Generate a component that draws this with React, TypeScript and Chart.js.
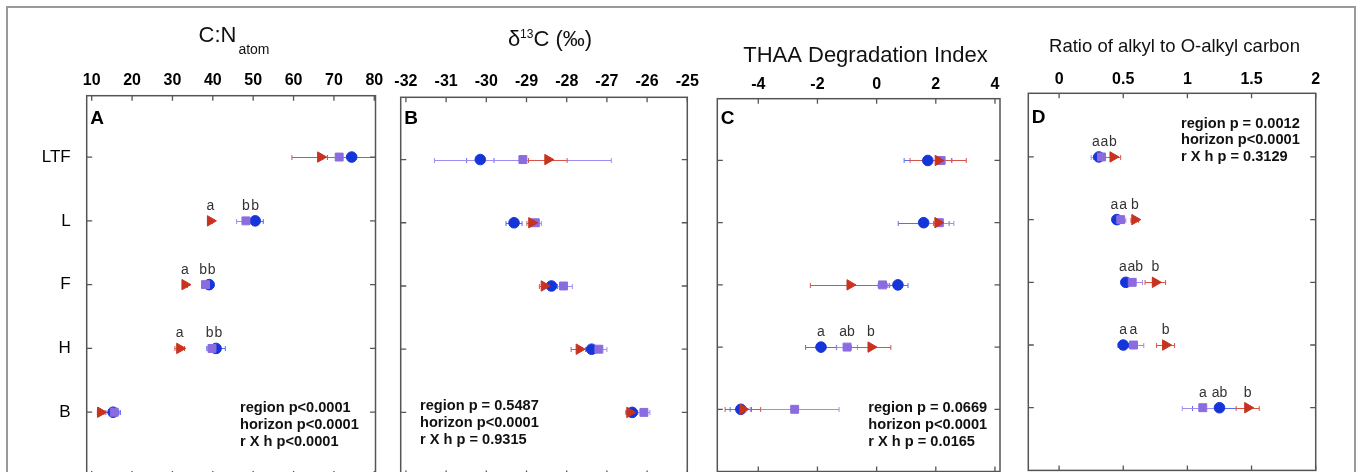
import React, { useEffect, useRef } from 'react';
import { Chart, registerables } from 'chart.js';

Chart.register(...registerables);

const FONT = '"Liberation Sans", Arial, Helvetica, sans-serif';

const categories = ['LTF', 'L', 'F', 'H', 'B'];

// ---- Panel A: C:N atom ----
const cnCircle = [74.4, 50.5, 39.1, 40.8, 15.3];
const cnCircleErr = [6.0, 2.0, 1.0, 2.3, 1.8];
const cnSquare = [71.3, 48.2, 38.2, 39.8, 15.6];
const cnSquareErr = [4.0, 2.3, 1.0, 1.2, 1.2];
const cnTriangle = [66.7, 39.4, 33.1, 31.8, 12.2];
const cnTriangleErr = [7.1, 0.5, 0.6, 1.2, 0.8];
const cnCircleSig = ['', 'b', 'b', 'b', ''];
const cnSquareSig = ['', 'b', 'b', 'b', ''];
const cnTriangleSig = ['', 'a', 'a', 'a', ''];
const cnTicks = [10, 20, 30, 40, 50, 60, 70, 80];
const cnStats = ['region p<0.0001', 'horizon p<0.0001', 'r X h p<0.0001'];

// ---- Panel B: delta 13C ----
const dcCircle = [-30.15, -29.31, -28.38, -27.38, -26.37];
const dcCircleErr = [0.34, 0.2, 0.15, 0.15, 0.1];
const dcSquare = [-29.09, -28.78, -28.08, -27.2, -26.08];
const dcSquareErr = [2.2, 0.15, 0.22, 0.2, 0.15];
const dcTriangle = [-28.47, -28.87, -28.56, -27.69, -26.43];
const dcTriangleErr = [0.48, 0.12, 0.12, 0.2, 0.1];
const dcCircleSig = ['', '', '', '', ''];
const dcSquareSig = ['', '', '', '', ''];
const dcTriangleSig = ['', '', '', '', ''];
const dcTicks = [-32, -31, -30, -29, -28, -27, -26, -25];
const dcStats = ['region p = 0.5487', 'horizon p<0.0001', 'r X h p = 0.9315'];

// ---- Panel C: THAA Degradation Index ----
const diCircle = [1.73, 1.59, 0.72, -1.88, -4.59];
const diCircleErr = [0.8, 0.86, 0.34, 0.52, 0.36];
const diSquare = [2.18, 2.12, 0.2, -1.0, -2.77];
const diSquareErr = [0.37, 0.49, 0.15, 0.35, 1.5];
const diTriangle = [2.08, 2.07, -0.9, -0.19, -4.52];
const diTriangleErr = [0.95, 0.15, 1.34, 0.67, 0.6];
const diCircleSig = ['', '', '', 'a', ''];
const diSquareSig = ['', '', '', 'ab', ''];
const diTriangleSig = ['', '', '', 'b', ''];
const diTicks = [-4, -2, 0, 2, 4];
const diStats = ['region p = 0.0669', 'horizon p<0.0001', 'r X h p = 0.0165'];

// ---- Panel D: alkyl / O-alkyl ----
const raCircle = [0.31, 0.45, 0.52, 0.5, 1.25];
const raCircleErr = [0.04, 0.03, 0.03, 0.04, 0.21];
const raSquare = [0.33, 0.48, 0.57, 0.58, 1.12];
const raSquareErr = [0.08, 0.04, 0.08, 0.08, 0.16];
const raTriangle = [0.42, 0.59, 0.75, 0.83, 1.47];
const raTriangleErr = [0.06, 0.03, 0.08, 0.07, 0.09];
const raCircleSig = ['a', 'a', 'a', 'a', 'ab'];
const raSquareSig = ['a', 'a', 'ab', 'a', 'a'];
const raTriangleSig = ['b', 'b', 'b', 'b', 'b'];
const raTicks = [0, 0.5, 1, 1.5, 2];
const raStats = ['region p = 0.0012', 'horizon p<0.0001', 'r X h p = 0.3129'];

const CIRCLE = '#1535d8';
const SQUARE = '#8a6ce0';
const TRIANGLE = '#c8321f';
const CIRCLE_LINE = '#5a6cf0';
const SQUARE_LINE = '#a08cf0';
const TRIANGLE_LINE = '#d6554a';
const BOX = '#555555';

type Seg = { text: string; size: number; dy: number; gap?: number };
type Series = { name: string; values: number[]; err: number[]; sig: string[]; style: 'circle' | 'rect' | 'triangle'; color: string; line: string; order: number };
type Panel = {
  id: string;
  L: number; R: number; T: number; Bt: number;
  xMin: number; xMax: number; yMin: number; yMax: number;
  ticks: number[]; tickPad: number; showCats: boolean;
  series: Series[];
  title: Seg[]; titleX: number; titleY: number;
  stats: string[]; statsX: number; statsY: number; statsDy: number;
  letterY: number;
};

const mk = (values: number[], err: number[], sig: string[], kind: 'circle' | 'rect' | 'triangle'): Series => {
  if (kind === 'circle') return { name: 'circle series', values, err, sig, style: 'circle', color: CIRCLE, line: CIRCLE_LINE, order: 2 };
  if (kind === 'rect') return { name: 'square series', values, err, sig, style: 'rect', color: SQUARE, line: SQUARE_LINE, order: 1 };
  return { name: 'triangle series', values, err, sig, style: 'triangle', color: TRIANGLE, line: TRIANGLE_LINE, order: 0 };
};

const panels: Panel[] = [
  {
    id: 'A', L: 86.7, R: 375.5, T: 95.7, Bt: 476, xMin: 8.76, xMax: 80.3, yMin: 0.038, yMax: 6,
    ticks: cnTicks, tickPad: 6, showCats: true,
    series: [mk(cnCircle, cnCircleErr, cnCircleSig, 'circle'), mk(cnSquare, cnSquareErr, cnSquareSig, 'rect'), mk(cnTriangle, cnTriangleErr, cnTriangleSig, 'triangle')],
    title: [{ text: 'C:N', size: 22, dy: 0, gap: 2 }, { text: 'atom', size: 14, dy: 12.3 }], titleX: 234, titleY: 41.7,
    stats: cnStats, statsX: 240, statsY: 408.3, statsDy: 17, letterY: 124,
  },
  {
    id: 'B', L: 400.7, R: 687.3, T: 97.3, Bt: 475.6, xMin: -32.13, xMax: -25, yMin: 0.015, yMax: 6,
    ticks: dcTicks, tickPad: 5.7, showCats: false,
    series: [mk(dcCircle, dcCircleErr, dcCircleSig, 'circle'), mk(dcSquare, dcSquareErr, dcSquareSig, 'rect'), mk(dcTriangle, dcTriangleErr, dcTriangleSig, 'triangle')],
    title: [{ text: 'δ', size: 22, dy: 0 }, { text: '13', size: 12, dy: -8 }, { text: 'C (‰)', size: 22, dy: 0 }], titleX: 550, titleY: 45.7,
    stats: dcStats, statsX: 420, statsY: 406, statsDy: 17, letterY: 124,
  },
  {
    id: 'C', L: 717.3, R: 1000, T: 98.7, Bt: 471.5, xMin: -5.385, xMax: 4.17, yMin: 0.007, yMax: 6,
    ticks: diTicks, tickPad: 4.1, showCats: false,
    series: [mk(diCircle, diCircleErr, diCircleSig, 'circle'), mk(diSquare, diSquareErr, diSquareSig, 'rect'), mk(diTriangle, diTriangleErr, diTriangleSig, 'triangle')],
    title: [{ text: 'THAA Degradation Index', size: 22, dy: 0 }], titleX: 865.5, titleY: 61.7,
    stats: diStats, statsX: 868.3, statsY: 408.3, statsDy: 17, letterY: 124,
  },
  {
    id: 'D', L: 1028.3, R: 1315.7, T: 93.3, Bt: 470.4, xMin: -0.24, xMax: 2.0, yMin: -0.015, yMax: 6,
    ticks: raTicks, tickPad: 4.2, showCats: false,
    series: [mk(raCircle, raCircleErr, raCircleSig, 'circle'), mk(raSquare, raSquareErr, raSquareSig, 'rect'), mk(raTriangle, raTriangleErr, raTriangleSig, 'triangle')],
    title: [{ text: 'Ratio of alkyl to O-alkyl carbon', size: 18.5, dy: 0 }], titleX: 1174.5, titleY: 51.7,
    stats: raStats, statsX: 1181, statsY: 124, statsDy: 16.3, letterY: 122.7,
  },
];

const H = 520;

function geom(p: Panel) {
  const left = Math.floor(p.L) - 90;
  const yw = p.L - left;
  const w = Math.ceil(p.R) + 60 - left;
  const pR = left + w - p.R;
  return { left, yw, w, pR };
}

function buildChart(canvas: HTMLCanvasElement, p: Panel) {
  const g = geom(p);
  const deco = {
    id: 'deco' + p.id,
    beforeDatasetsDraw(chart: any) {
      const ctx = chart.ctx as CanvasRenderingContext2D;
      const xs = chart.scales.x;
      const ys = chart.scales.y;
      const a = chart.chartArea;
      ctx.save();
      ctx.beginPath();
      ctx.rect(a.left, a.top, a.right - a.left, a.bottom - a.top);
      ctx.clip();
      ctx.lineWidth = 1;
      for (const s of p.series) {
        ctx.strokeStyle = s.line;
        s.values.forEach((v, i) => {
          const e = s.err[i];
          const y = Math.round(ys.getPixelForValue(i + 1)) + 0.5;
          const x1 = xs.getPixelForValue(v - e);
          const x2 = xs.getPixelForValue(v + e);
          ctx.beginPath();
          ctx.moveTo(x1, y);
          ctx.lineTo(x2, y);
          ctx.moveTo(x1, y - 2.5);
          ctx.lineTo(x1, y + 2.5);
          ctx.moveTo(x2, y - 2.5);
          ctx.lineTo(x2, y + 2.5);
          ctx.stroke();
        });
      }
      ctx.restore();
    },
    afterDraw(chart: any) {
      const ctx = chart.ctx as CanvasRenderingContext2D;
      const xs = chart.scales.x;
      const ys = chart.scales.y;
      const a = chart.chartArea;
      const off = g.left;
      ctx.save();
      // box
      ctx.strokeStyle = BOX;
      ctx.lineWidth = 1.5;
      ctx.strokeRect(a.left, a.top, a.right - a.left, a.bottom - a.top);
      // inward ticks
      ctx.lineWidth = 1.3;
      ctx.beginPath();
      for (const t of p.ticks) {
        const x = xs.getPixelForValue(t);
        ctx.moveTo(x, a.top);
        ctx.lineTo(x, a.top + 5);
        ctx.moveTo(x, a.bottom);
        ctx.lineTo(x, a.bottom - 5);
      }
      categories.forEach((_, i) => {
        const y = ys.getPixelForValue(i + 1);
        ctx.moveTo(a.left, y);
        ctx.lineTo(a.left + 5.5, y);
        ctx.moveTo(a.right, y);
        ctx.lineTo(a.right - 5.5, y);
      });
      ctx.stroke();
      // panel letter
      ctx.fillStyle = '#000';
      ctx.font = `bold 19px ${FONT}`;
      ctx.textAlign = 'left';
      ctx.textBaseline = 'alphabetic';
      ctx.fillText(p.id, a.left + 3.5, p.letterY);
      // title
      let total = 0;
      for (const s of p.title) {
        ctx.font = `${s.size}px ${FONT}`;
        total += ctx.measureText(s.text).width + (s.gap || 0);
      }
      let x = p.titleX - off - total / 2;
      ctx.fillStyle = '#111';
      for (const s of p.title) {
        ctx.font = `${s.size}px ${FONT}`;
        ctx.fillText(s.text, x, p.titleY + s.dy);
        x += ctx.measureText(s.text).width + (s.gap || 0);
      }
      // stats
      ctx.font = `bold 14.6px ${FONT}`;
      ctx.fillStyle = '#111';
      ctx.textBaseline = 'middle';
      p.stats.forEach((line, i) => {
        ctx.fillText(line, p.statsX - off, p.statsY + i * p.statsDy);
      });
      // significance letters
      ctx.font = `14px ${FONT}`;
      ctx.fillStyle = '#333';
      ctx.textAlign = 'center';
      ctx.textBaseline = 'alphabetic';
      categories.forEach((_, i) => {
        const items: { t: string; x: number; w: number }[] = [];
        for (const s of p.series) {
          const t = s.sig[i];
          if (!t) continue;
          items.push({ t, x: xs.getPixelForValue(s.values[i]), w: ctx.measureText(t).width });
        }
        items.sort((m, n) => m.x - n.x);
        for (let k = 0; k + 1 < items.length; k++) {
          const need = (items[k].w + items[k + 1].w) / 2 + 0.8;
          const d = items[k + 1].x - items[k].x;
          if (d < need) {
            const sh = (need - d) / 2;
            items[k].x -= sh;
            items[k + 1].x += sh;
          }
        }
        const y = ys.getPixelForValue(i + 1) - 11;
        for (const it of items) ctx.fillText(it.t, it.x, y);
      });
      ctx.restore();
    },
  };

  return new Chart(canvas, {
    type: 'scatter',
    data: {
      datasets: p.series.map((s) => ({
        label: s.name,
        data: s.values.map((v, i) => ({ x: v, y: i + 1 })),
        showLine: false,
        pointStyle: s.style,
        pointRotation: s.style === 'triangle' ? 90 : 0,
        pointRadius: s.style === 'circle' ? 5.3 : s.style === 'rect' ? 5.6 : 6,
        pointBackgroundColor: s.color,
        pointBorderColor: s.color,
        pointBorderWidth: 1,
        order: s.order,
      })),
    },
    options: {
      responsive: false,
      animation: false,
      devicePixelRatio: 1,
      events: [],
      layout: { padding: { left: 0, top: 0, right: g.pR, bottom: H - p.Bt } },
      plugins: { legend: { display: false }, tooltip: { enabled: false }, title: { display: false } },
      scales: {
        x: {
          type: 'linear',
          position: 'top',
          min: p.xMin,
          max: p.xMax,
          grid: { display: false, drawTicks: false },
          border: { display: false },
          afterBuildTicks: (scale: any) => {
            scale.ticks = p.ticks.map((v) => ({ value: v }));
          },
          afterFit: (scale: any) => {
            scale.height = p.T;
          },
          ticks: {
            autoSkip: false,
            maxRotation: 0,
            minRotation: 0,
            padding: p.tickPad,
            color: '#000',
            font: { family: FONT, size: 16, weight: 'bold' },
            callback: (v: any) => String(v),
          },
        },
        y: {
          type: 'linear',
          position: 'left',
          reverse: true,
          min: p.yMin,
          max: p.yMax,
          grid: { display: false, drawTicks: false },
          border: { display: false },
          afterBuildTicks: (scale: any) => {
            scale.ticks = categories.map((_, i) => ({ value: i + 1 }));
          },
          afterFit: (scale: any) => {
            scale.width = g.yw;
          },
          ticks: {
            display: p.showCats,
            autoSkip: false,
            padding: 16,
            color: '#000',
            font: { family: FONT, size: 17 },
            callback: (v: any) => categories[Math.round(v) - 1] ?? '',
          },
        },
      },
    } as any,
    plugins: [deco],
  });
}

export default function App() {
  const r0 = useRef<HTMLCanvasElement>(null);
  const r1 = useRef<HTMLCanvasElement>(null);
  const r2 = useRef<HTMLCanvasElement>(null);
  const r3 = useRef<HTMLCanvasElement>(null);
  const refs = [r0, r1, r2, r3];

  useEffect(() => {
    const charts = panels.map((p, i) => buildChart(refs[i].current as HTMLCanvasElement, p));
    return () => charts.forEach((c) => c.destroy());
  }, []);

  return (
    <div style={{ position: 'fixed', left: 0, top: 0, width: 1358, height: 472, overflow: 'hidden', background: '#fff' }}>
      <div
        style={{
          position: 'absolute', left: 6, top: 6, width: 1350, height: 540, boxSizing: 'border-box',
          borderTop: '2px solid #9a9a9a', borderLeft: '2px solid #9a9a9a', borderRight: '2px solid #9a9a9a',
        }}
      />
      {panels.map((p, i) => {
        const g = geom(p);
        return (
          <canvas
            key={p.id}
            ref={refs[i]}
            width={g.w}
            height={H}
            style={{ position: 'absolute', left: g.left, top: 0, width: g.w, height: H }}
          />
        );
      })}
    </div>
  );
}
